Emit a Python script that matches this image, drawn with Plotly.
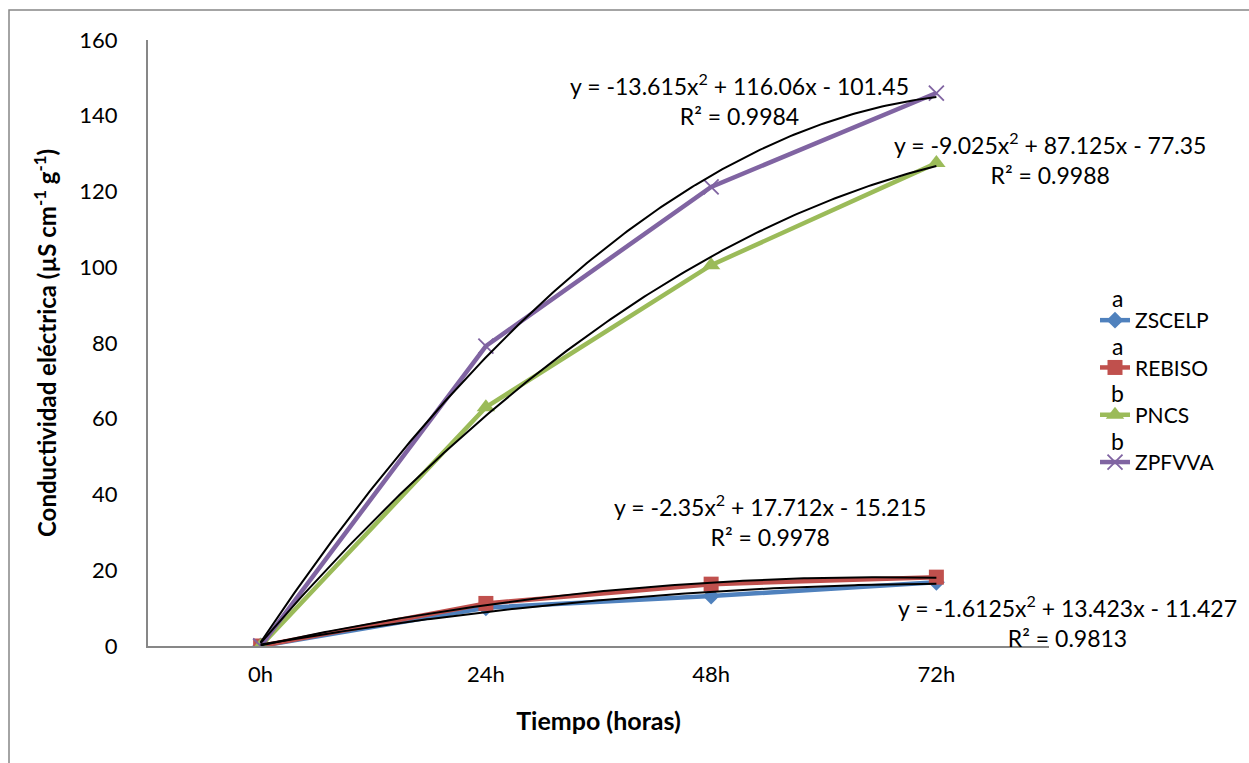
import numpy as np
import plotly.graph_objects as go

# ---------------- data ----------------
categories = ["0h", "24h", "48h", "72h"]
series_names = ["ZSCELP", "REBISO", "PNCS", "ZPFVVA"]
zscelp = [0, 10.1, 13.2, 16.8]
rebiso = [0, 11.24, 16.33, 18.18]
pncs = [0, 63.05, 100.55, 127.5]
zpfvva = [0, 79.2, 121.2, 146.0]
group_letters = ["a", "a", "b", "b"]

# polynomial trendline coefficients (a, b, c) as printed on chart
trend_zscelp = [-1.6125, 13.423, -11.427]
trend_rebiso = [-2.35, 17.712, -15.215]
trend_pncs = [-9.025, 87.125, -77.35]
trend_zpfvva = [-13.615, 116.06, -101.45]
r2_values = ["0.9813", "0.9978", "0.9988", "0.9984"]

# ---------------- layout helpers ----------------
W, H = 1249, 763
L, R, T, B = 148, 1049, 40, 646


def px(x):
    return (x - L) / (R - L)


def py(y):
    return (B - y) / (B - T)


FONT = "Lato, Calibri, sans-serif"
colors = ["#4F81BD", "#C0504D", "#9BBB59", "#8064A2"]
symbols = ["diamond", "square", "triangle-up", "x-thin-open"]
msizes = [13, 15, 16, 15]
values = [zscelp, rebiso, pncs, zpfvva]
trends = [trend_zscelp, trend_rebiso, trend_pncs, trend_zpfvva]

xi = list(range(len(categories)))

fig = go.Figure()
for i, name in enumerate(series_names):
    marker = dict(symbol=symbols[i], size=msizes[i], color=colors[i])
    if symbols[i] == "x-thin-open":
        marker["line"] = dict(width=1.8, color=colors[i])
    fig.add_trace(go.Scatter(
        x=xi, y=values[i], mode="lines+markers", name=name,
        line=dict(color=colors[i], width=4.5),
        marker=marker, legendgroup=name,
    ))

t = np.linspace(0, len(categories) - 1, 200)
for i, coeffs in enumerate(trends):
    fig.add_trace(go.Scatter(
        x=t, y=np.polyval(coeffs, t + 1), mode="lines",
        line=dict(color="black", width=2), showlegend=False, hoverinfo="skip",
    ))

eq_font = dict(family=FONT, size=23, color="black")


def eq_text(c, r2):
    def fmt(v):
        return f"{abs(v):g}"
    s1 = "+" if c[1] >= 0 else "-"
    s2 = "+" if c[2] >= 0 else "-"
    sign0 = "-" if c[0] < 0 else ""
    return (f"y = {sign0}{fmt(c[0])}x<sup>2</sup> {s1} {fmt(c[1])}x {s2} {fmt(c[2])}"
            f"<br>R² = {r2}")


eq_pos = [(1067, 621), (770, 520), (1050, 158), (739, 100)]
annotations = []
for i in range(4):
    x0, y0 = eq_pos[i]
    annotations.append(dict(
        xref="paper", yref="paper", x=px(x0), y=py(y0),
        text=eq_text(trends[i], r2_values[i]), showarrow=False,
        font=eq_font, align="center", xanchor="center", yanchor="middle",
    ))

letter_y = [298, 346, 393, 441]
for i, lt in enumerate(group_letters):
    annotations.append(dict(
        xref="paper", yref="paper", x=px(1117), y=py(letter_y[i]),
        text=lt, showarrow=False, xanchor="center", yanchor="middle",
        font=dict(family=FONT, size=23, color="black"),
    ))

fig.update_layout(
    width=W, height=H,
    margin=dict(l=L, r=W - R, t=T, b=H - B),
    paper_bgcolor="white", plot_bgcolor="white",
    showlegend=True,
    legend=dict(
        x=px(1095), y=py(300), xanchor="left", yanchor="top",
        font=dict(family=FONT, size=21, color="black"),
        tracegroupgap=17, bgcolor="rgba(0,0,0,0)",
    ),
    annotations=annotations,
    shapes=[dict(type="rect", xref="paper", yref="paper",
                 x0=px(9), x1=px(1300), y0=py(800), y1=py(10),
                 line=dict(color="#878787", width=1.5), layer="below")],
    xaxis=dict(
        range=[-0.5, len(categories) - 0.5], tickmode="array",
        tickvals=xi, ticktext=categories, showgrid=False, zeroline=False,
        showline=True, linecolor="#878787", linewidth=2, ticks="",
        tickfont=dict(family=FONT, size=22, color="black"),
        ticklabelstandoff=8,
        title=dict(text="<b>Tiempo (horas)</b>", standoff=26,
                   font=dict(family=FONT, size=25, color="black")),
    ),
    yaxis=dict(
        range=[0, 160], dtick=20, showgrid=False, zeroline=False,
        showline=True, linecolor="#878787", linewidth=2, ticks="",
        tickfont=dict(family=FONT, size=22, color="black"),
        ticklabelstandoff=24,
        title=dict(text="<b>Conductividad eléctrica (µS cm<sup>-1</sup> g<sup>-1</sup>)</b>",
                   standoff=16,
                   font=dict(family=FONT, size=24, color="black")),
    ),
)

fig.write_html("out.html", post_script="document.body.style.margin='0';",
               config={"displayModeBar": False})
